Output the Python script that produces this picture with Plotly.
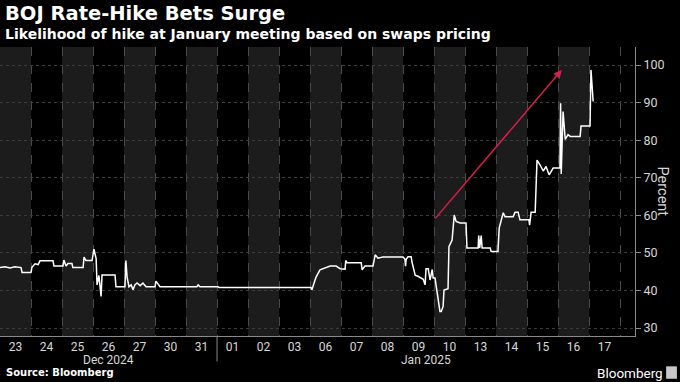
import plotly.graph_objects as go

# Trading sessions (category labels on the x axis)
days = ["23", "24", "25", "26", "27", "30", "31", "01", "02", "03",
        "06", "07", "08", "09", "10", "13", "14", "15", "16", "17"]
months = ["Dec 2024", "Jan 2025"]
month_first_day = [0, 7]

# Intraday path: position in trading-day units (session index + fraction of day)
t = [0.00, 0.16, 0.32, 0.48, 0.68, 0.71, 1.00, 1.03, 1.13, 1.23, 1.29, 1.71, 1.74,
     2.03, 2.06, 2.13, 2.19, 2.32, 2.35, 2.68, 2.71, 2.77, 2.97, 3.03, 3.10, 3.13,
     3.19, 3.26, 3.29, 3.71, 3.74, 4.03, 4.06, 4.10, 4.16, 4.23, 4.29, 4.35, 4.42,
     4.52, 4.61, 4.71, 5.00, 5.03, 5.16, 6.35, 6.39, 6.45, 7.03, 7.06, 10.03, 10.06,
     10.13, 10.19, 10.32, 10.48, 10.65, 10.84, 10.97, 11.13, 11.15, 11.19, 11.65,
     11.68, 11.77, 12.03, 12.10, 12.19, 12.35, 13.00, 13.06, 13.08, 13.10, 13.16,
     13.26, 13.29, 13.39, 13.48, 13.65, 13.71, 13.74, 13.81, 13.87, 13.94, 13.97,
     14.03, 14.10, 14.19, 14.23, 14.29, 14.32, 14.45, 14.48, 14.58, 14.65, 14.71,
     14.84, 15.03, 15.06, 15.42, 15.44, 15.47, 15.52, 15.55, 15.81, 15.84, 16.06,
     16.10, 16.23, 16.29, 16.55, 16.61, 16.71, 16.77, 17.06, 17.08, 17.10, 17.13,
     17.26, 17.32, 17.42, 17.52, 17.61, 17.71, 17.84, 18.06, 18.08, 18.10, 18.16,
     18.23, 18.32, 18.39, 18.71, 18.74, 19.03, 19.06, 19.13]
pct = [46.1, 46.3, 46.0, 46.3, 46.1, 44.8, 44.8, 46.2, 47.1, 46.9, 47.9, 47.9, 46.5,
       46.5, 48.1, 46.5, 47.2, 47.2, 46.1, 46.1, 48.9, 48.0, 48.0, 51.0, 48.5, 41.5,
       44.0, 38.4, 44.1, 44.1, 41.0, 41.0, 48.0, 43.5, 41.0, 41.5, 40.2, 41.5, 42.0,
       41.3, 42.0, 41.0, 41.0, 42.5, 41.0, 41.0, 41.5, 41.0, 41.0, 40.8, 40.8, 40.2,
       42.0, 43.5, 45.5, 46.0, 46.5, 46.5, 45.8, 45.7, 48.0, 47.4, 47.4,
       45.5, 46.5, 46.5, 49.5, 48.6, 48.9, 48.9, 48.3, 46.5, 48.3, 49.0,
       49.0, 47.5, 44.1, 43.8, 43.0, 41.5, 45.8, 45.8, 42.8, 45.6, 43.3,
       43.3, 39.3, 34.4, 34.4, 35.7, 40.1, 40.5, 51.7, 53.4, 60.1, 58.4,
       58.0, 58.0, 51.3, 51.3, 54.6, 51.3, 54.6, 51.3, 51.3, 50.4, 50.4,
       56.6, 60.7, 59.6, 59.6, 60.8, 60.8, 58.8, 58.8, 57.4, 58.8, 60.8,
       60.8, 74.7, 73.4, 71.8, 73.0, 70.8, 72.6, 72.6, 89.8, 71.0, 87.6,
       80.2, 81.5, 81.0, 81.0, 83.8, 83.8, 98.7, 90.3]

# Trend arrow (start / end in session units and percent)
arrow_t = [14.0, 18.12]
arrow_pct = [58.8, 98.7]

y_ticks = [30, 40, 50, 60, 70, 80, 90, 100]

BG = "#000000"
BAND = "#1c1c1c"
GRID = "#3c3c3c"
AXIS = "#8a8a8a"
TICKFONT = "Liberation Sans Narrow, Roboto, sans-serif"
TITLEFONT = "DejaVu Sans, sans-serif"

fig = go.Figure()
fig.add_trace(go.Scatter(x=t, y=pct, mode="lines",
                         line=dict(color="#ffffff", width=1.5),
                         hoverinfo="skip", showlegend=False))

# alternating day bands
shapes = []
for i in range(0, len(days), 2):
    shapes.append(dict(type="rect", xref="x", yref="paper", x0=i, x1=i + 1,
                       y0=0, y1=1, fillcolor=BAND, line=dict(width=0), layer="below"))
# month separator
shapes.append(dict(type="line", xref="x", yref="paper", x0=month_first_day[1],
                   x1=month_first_day[1], y0=0, y1=-0.088,
                   line=dict(color=AXIS, width=1)))
# Bloomberg mark
shapes.append(dict(type="rect", xref="paper", yref="paper", x0=1.049, x1=1.066,
                   y0=-0.148, y1=-0.105, fillcolor="#c8c8c8", line=dict(width=0)))

annotations = [
    dict(x=arrow_t[1], y=arrow_pct[1], ax=arrow_t[0], ay=arrow_pct[0],
         xref="x", yref="y", axref="x", ayref="y", text="", showarrow=True,
         arrowhead=2, arrowsize=1.1, arrowwidth=1.5, arrowcolor="#d81e4a"),
    dict(text="<b>BOJ Rate-Hike Bets Surge</b>", xref="paper", yref="paper",
         x=0.004, y=1.117, xanchor="left", yanchor="middle", showarrow=False,
         font=dict(size=19.5, color="#ffffff", family=TITLEFONT)),
    dict(text="<b>Likelihood of hike at January meeting based on swaps pricing</b>",
         xref="paper", yref="paper", x=0.004, y=1.046, xanchor="left",
         yanchor="middle", showarrow=False,
         font=dict(size=14, color="#ffffff", family=TITLEFONT)),
    dict(text="<b>Source: Bloomberg</b>", xref="paper", yref="paper", x=0.006,
         y=-0.128, xanchor="left", yanchor="middle", showarrow=False,
         font=dict(size=10, color="#ffffff", family=TITLEFONT)),
    dict(text="Bloomberg", xref="paper", yref="paper", x=1.048, y=-0.127,
         xanchor="right", yanchor="middle", showarrow=False,
         font=dict(size=13.5, color="#ffffff", family=TICKFONT)),
    dict(text="Percent", xref="paper", yref="paper", x=1.044, y=0.50,
         xanchor="center", yanchor="middle", showarrow=False, textangle=90,
         font=dict(size=14.5, color="#d8d8d8", family=TICKFONT)),
]
# month labels
month_ends = [month_first_day[1], 20.48]
for name, start, end in zip(months, month_first_day, month_ends):
    annotations.append(dict(text=name, xref="x", yref="paper", x=(start + end) / 2,
                            y=-0.082, xanchor="center", yanchor="middle",
                            showarrow=False,
                            font=dict(size=12, color="#d8d8d8", family=TICKFONT)))

fig.update_layout(
    width=680, height=382,
    margin=dict(l=0, r=45, t=47, b=46),
    paper_bgcolor=BG, plot_bgcolor=BG,
    shapes=shapes, annotations=annotations,
    xaxis=dict(range=[0, 20.48], tickmode="array",
               tickvals=[i + 0.5 for i in range(len(days))], ticktext=days,
               showgrid=False, zeroline=False, showline=True, linecolor=AXIS,
               linewidth=1, ticks="",
               tickfont=dict(size=12, color="#d8d8d8", family=TICKFONT),
               minor=dict(tickmode="linear", tick0=0, dtick=1, showgrid=True,
                          gridcolor="#4a4a4a", griddash="dash", gridwidth=1,
                          ticks="")),
    yaxis=dict(range=[27.9, 104.8], side="right", tickvals=y_ticks,
               showgrid=True, gridcolor=GRID, griddash="dot", gridwidth=1,
               zeroline=False, showline=True, linecolor=AXIS, linewidth=1,
               ticks="outside", ticklen=5, tickcolor=AXIS,
               tickfont=dict(size=12.5, color="#d8d8d8", family=TICKFONT)),
)

fig.write_html("out.html", config={"displayModeBar": False},
               post_script="document.body.style.margin='0';")
